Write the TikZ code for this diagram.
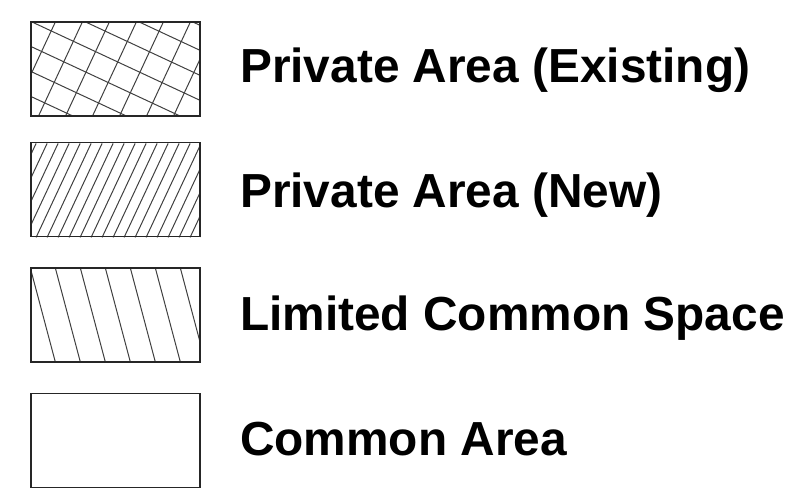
\documentclass[tikz,border=0pt]{standalone}
\usepackage{fontspec}
\setmainfont{Liberation Sans}

\begin{document}
\begin{tikzpicture}[
    x=1pt, y=-1pt,
    keybox/.style={draw=black!85, line width=1.8pt, minimum width=169pt, minimum height=94pt, inner sep=0pt},
    keytext/.style={anchor=base west, inner sep=0pt, font=\fontsize{47.8}{52}\selectfont\bfseries},
    hatch/.style={draw=black!75, line width=1pt}
]
    \useasboundingbox (0,0) rectangle (795,500);

    \node [keybox] (existing) at (115.5,69) {};
    \node [keybox] (new) at (115.5,189.5) {};
    \node [keybox] (limited) at (115.5,315) {};
    \node [keybox] (common) at (115.5,440.5) {};

    % crosshatch
    \begin{scope}
        \clip (existing.south west) rectangle (existing.north east);
        \foreach \s in {-100,-73,...,250}
            \draw [hatch] (existing.south west) ++(\s,0) -- ++(-65:250);
        \foreach \s in {-150,-125,...,120}
            \draw [hatch] (existing.north west) ++(0,\s) -- ++(25:250);
    \end{scope}

    % fine diagonal hatch
    \begin{scope}
        \clip (new.south west) rectangle (new.north east);
        \foreach \s in {-60,-49,...,240}
            \draw [hatch] (new.south west) ++(\s,0) -- ++(44,-94);
    \end{scope}

    % wide steep hatch
    \begin{scope}
        \clip (limited.south west) rectangle (limited.north east);
        \foreach \s in {0,25,...,175}
            \draw [hatch] (limited.north west) ++(\s,0) -- ++(25,94);
    \end{scope}

    \node [keybox] at (existing) {};
    \node [keybox] at (new) {};
    \node [keybox] at (limited) {};

    \node [keytext] (existinglabel) at (240,83) {Private Area (Existing)};
    \node [keytext] (newlabel) at (240,207) {Private Area (New)};
    \node [keytext] (limitedlabel) at (240,330) {Limited Common Space};
    \node [keytext] (commonlabel) at (240,455) {Common Area};
\end{tikzpicture}
\end{document}
